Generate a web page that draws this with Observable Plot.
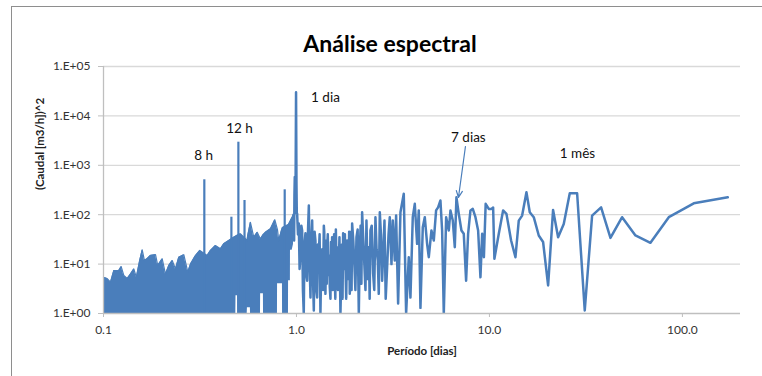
<!DOCTYPE html>
<html><head><meta charset="utf-8">
<script src="https://cdn.jsdelivr.net/npm/d3@7"></script>
<script src="https://cdn.jsdelivr.net/npm/@observablehq/plot@0.6"></script>
<style>
html,body{margin:0;padding:0;background:#fff;}
#wrap{position:relative;width:762px;height:376px;overflow:hidden;}
#chart{position:absolute;left:0;top:0;}
#frame{position:absolute;left:11px;top:6px;width:800px;height:400px;border-top:1.5px solid #8e8e8e;border-left:1.5px solid #8e8e8e;box-sizing:border-box;pointer-events:none;}
</style></head><body>
<div id="wrap"><div id="chart"></div><div id="frame"></div></div>
<script>
// ---- data ----
const titleText = "Análise espectral";
const xTitle = "Período [dias]";
const yTitle = "(Caudal [m3/h])^2";

const xTicks = [0.1, 1, 10, 100];
const xTickLabels = ["0.1", "1.0", "10.0", "100.0"];
const yTicks = [1, 10, 100, 1000, 10000, 100000];
const yTickLabels = ["1.E+00", "1.E+01", "1.E+02", "1.E+03", "1.E+04", "1.E+05"];

// dense short-period part: upper and lower envelope of the noise
const envPeriod = [0.1, 0.1045, 0.1087, 0.1131, 0.120, 0.1235, 0.1274, 0.1327, 0.138, 0.1436, 0.148, 0.154, 0.1587, 0.163, 0.168, 0.175, 0.186, 0.191, 0.2015, 0.2095, 0.218, 0.227, 0.236, 0.2455, 0.2607, 0.2735, 0.2825, 0.296, 0.3, 0.3155, 0.3445, 0.3584, 0.380, 0.4036, 0.420, 0.4458, 0.473, 0.485, 0.486, 0.495, 0.496, 0.5128, 0.5555, 0.557, 0.577, 0.578, 0.6008, 0.626, 0.651, 0.652, 0.674, 0.675, 0.691, 0.7334, 0.772, 0.797, 0.798, 0.8094, 0.836, 0.846, 0.847, 0.909, 0.91, 0.93, 0.931, 0.95, 0.965];
const envUpper  = [5.4, 5.1, 4.3, 7.4, 7.4, 8.9, 5.9, 5.1, 6.3, 8.0, 5.4, 11.8, 19.5, 11.8, 12.8, 15, 15.5, 9.4, 12.8, 6.3, 9.4, 11.8, 8, 13.8, 15.5, 6.9, 10, 13.8, 14.9, 18.9, 14.9, 18.9, 23.7, 20.4, 25.7, 30, 35, 37, 37, 39, 39, 41, 30, 35, 70, 68, 35, 44, 32, 33, 40, 40, 44, 52, 79, 50, 48, 30, 48, 55, 55, 63, 64, 75, 76, 89, 100];
const envLower  = [1, 1, 1, 1, 1, 1, 1, 1, 1, 1, 1, 1, 1, 1, 1, 1, 1, 1, 1, 1, 1, 1, 1, 1, 1, 1, 1, 1, 1, 1, 1, 1, 1, 1, 1, 1, 1, 1, 2.3, 2.3, 1, 1, 1, 1.3, 1.3, 1, 1, 1, 1, 2.5, 2.5, 1, 1, 1, 1, 1, 4, 4, 4, 4, 1, 1, 4.6, 4.6, 19, 19, 25];

// isolated peaks inside the dense part (8 h, 12 h and others)
const spikePeriod = [0.333, 0.46, 0.5, 0.538, 0.869];
const spikeValue  = [509, 89, 2935, 194, 319];

// longer periods: individual points
const linePeriod = [0.965, 0.972, 0.976, 0.98, 0.985, 0.99, 0.995, 1.0, 1.004,
  1.008, 1.018, 1.028, 1.038, 1.049, 1.06, 1.070, 1.08, 1.091, 1.10, 1.113, 1.125, 1.136, 1.148, 1.159, 1.17, 1.182, 1.194, 1.206, 1.218, 1.230, 1.242, 1.254, 1.267, 1.28, 1.292, 1.305, 1.318, 1.331, 1.345, 1.36, 1.373, 1.386, 1.393, 1.40, 1.413, 1.42, 1.428, 1.435, 1.442, 1.453, 1.465, 1.476, 1.488, 1.50, 1.51, 1.52, 1.530, 1.542, 1.555, 1.567, 1.580, 1.59, 1.60, 1.612, 1.624, 1.64, 1.655, 1.67, 1.690, 1.705, 1.72, 1.733, 1.745, 1.757, 1.77, 1.782, 1.794, 1.81, 1.83, 1.845, 1.86, 1.875, 1.889, 1.90, 1.915, 1.93, 1.943, 1.97, 1.998, 2.02, 2.046, 2.075, 2.104, 2.125, 2.15, 2.17, 2.189, 2.22, 2.251, 2.278, 2.305, 2.34, 2.370, 2.395, 2.417, 2.455, 2.496, 2.53, 2.566, 2.60, 2.639, 2.67, 2.703, 2.74, 2.779, 2.82, 2.858, 2.90, 2.950, 3.0, 3.045,
  3.107, 3.156, 3.232, 3.284, 3.363, 3.458, 3.598, 3.700, 3.819, 3.896, 4.006, 4.103, 4.219, 4.303, 4.390, 4.514, 4.623, 4.753, 4.849, 5.006, 5.147, 5.292, 5.420, 5.573, 5.686, 5.800, 5.965, 6.157, 6.281, 6.457, 6.613, 6.745, 6.936, 7.160, 7.362, 7.570, 7.753, 7.972, 8.197, 8.463, 8.737, 8.983,
  9.17, 9.36, 9.56, 9.92, 10.24, 10.45, 10.61, 11.18, 11.77, 12.25, 12.95, 13.64, 14.19, 14.77, 15.55, 16.18, 16.97, 18.01, 18.97, 20.14, 21.37, 22.69, 24.27, 26.08, 28.47, 31.18, 34.04, 37.9, 42.37, 48.7, 57.1, 68.3, 85.0, 114.5, 171.8];
const lineValue = [100, 30, 250, 580, 120, 560, 30000, 420, 105,
  105, 40, 66, 8, 16, 60, 48, 3, 1, 25, 42, 6, 4.6, 50, 153, 10, 2.1, 30, 76, 5, 1.15, 45, 30, 3, 2.1, 25, 16, 40, 1, 12, 20, 3, 60, 45, 8, 2.5, 10, 30, 4, 22, 40, 6, 15, 3.4, 2, 28, 8, 35, 3, 12, 40, 4.6, 2, 50, 10, 22, 3, 8, 35, 1, 5, 25, 2, 42, 8, 15, 40, 10, 2, 30, 20, 5, 45, 2.5, 8, 45, 3, 66, 30, 8.7, 3, 35, 50, 1, 15, 60, 4, 112, 30, 8.7, 3, 76, 5, 22, 2, 48, 60, 6.4, 3, 89, 20, 11.8, 2.5, 112, 40, 4.6, 20, 76, 2, 8.7, 40, 89,
  10, 76, 11.8, 96, 1.6, 112, 265, 1, 13.8, 2.1, 89, 166, 25.7, 122, 1.3, 56, 89, 25.7, 13.8, 48, 30, 122, 141, 194, 48, 1, 89, 48, 122, 76, 22, 225, 104, 48, 41, 4.6, 41, 122, 131, 89, 48, 5.4,
  41, 13.8, 166, 131, 131, 140, 12.8, 41, 122, 104, 30, 13.8, 76, 96, 286, 112, 89, 38, 28, 3.7, 125, 35, 65, 272, 272, 1.15, 96, 141, 34, 89, 38, 27, 89, 170, 225];

// annotations
const annLabel  = ["8 h", "12 h", "1 dia", "7 dias", "1 mês"];
const annPeriod = [0.33, 0.507, 1.413, 7.78, 28.6];
const annValue  = [1580, 5560, 23600, 3650, 1734];
const arrowFrom = [7.51, 2404];
const arrowTo   = [6.91, 223];

// ---- build tables ----
const env = envPeriod.map((p, i) => ({p, hi: envUpper[i], lo: envLower[i]}));
const spikes = spikePeriod.map((p, i) => ({p, v: spikeValue[i]}));
const series = linePeriod.map((p, i) => ({p, v: lineValue[i]}));
const ann = annLabel.map((t, i) => ({t, p: annPeriod[i], v: annValue[i]}));
const blue = "#4a7ebb";

const chart = Plot.plot({
  width: 762, height: 376,
  marginLeft: 103, marginRight: 22, marginTop: 66, marginBottom: 63,
  style: {fontFamily: "Lato, 'Open Sans', sans-serif", fontSize: "12px", background: "transparent", color: "#333"},
  x: {type: "log", domain: [0.1, 200], axis: null},
  y: {type: "log", domain: [1, 100000], axis: null},
  marks: [
    Plot.ruleY(yTicks.slice(1), {stroke: "#d9d9d9", strokeWidth: 1.3}),
    Plot.areaY(env, {x: "p", y1: "lo", y2: "hi", fill: blue, clip: true}),
    Plot.line(env, {x: "p", y: "hi", stroke: blue, strokeWidth: 1.2}),
    Plot.ruleX(spikes, {x: "p", y1: 1, y2: "v", stroke: blue, strokeWidth: 2.2}),
    Plot.line(series, {x: "p", y: "v", stroke: blue, strokeWidth: 2.5, strokeLinejoin: "round", clip: true}),
    Plot.ruleY([1], {stroke: "#bfbfbf", strokeWidth: 1.3}),
    Plot.ruleX([0.1], {stroke: "#bfbfbf", strokeWidth: 1.3}),
    Plot.axisY(yTicks, {tickFormat: d => yTickLabels[yTicks.indexOf(d)], tickSize: 5, tickPadding: 8, stroke: "#bfbfbf", fill: "#333", fontSize: 12, label: null}),
    Plot.axisX(xTicks, {tickFormat: d => xTickLabels[xTicks.indexOf(d)], tickSize: 4, tickPadding: 8, stroke: "#bfbfbf", fill: "#333", fontSize: 12, label: null}),
    Plot.text([titleText], {text: d => d, frameAnchor: "top", dy: -31, dx: -32, fontSize: 23, fontWeight: "bold", fill: "#000"}),
    Plot.text([xTitle], {text: d => d, frameAnchor: "bottom", dy: 41, fontSize: 11.5, fontWeight: "bold", fill: "#222"}),
    Plot.text([yTitle], {text: d => d, frameAnchor: "left", dx: -63, rotate: -90, fontSize: 11.5, fontWeight: "bold", fill: "#222"}),
    Plot.text(ann, {x: "p", y: "v", text: "t", fontSize: 13.5, fill: "#111"}),
    Plot.arrow([{x1: arrowFrom[0], y1: arrowFrom[1], x2: arrowTo[0], y2: arrowTo[1]}], {x1: "x1", y1: "y1", x2: "x2", y2: "y2", stroke: blue, strokeWidth: 1.2, headLength: 9, headAngle: 50})
  ]
});
document.getElementById("chart").appendChild(chart);
</script></body></html>
